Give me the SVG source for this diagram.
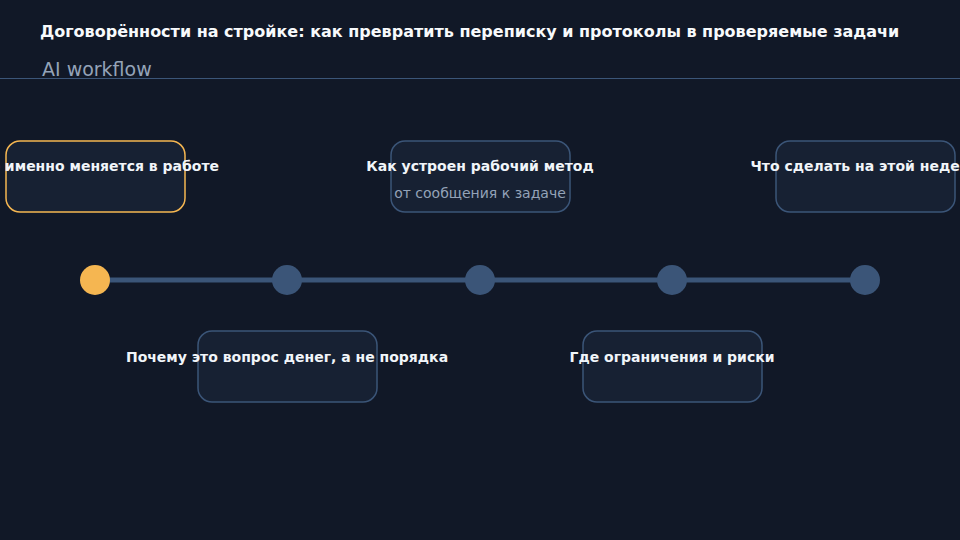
<svg xmlns="http://www.w3.org/2000/svg" width="960" height="540" viewBox="0 0 960 540">
<style>
.t{font-family:"DejaVu Sans",sans-serif;font-weight:bold;font-size:14px;fill:#f1f5f9;text-anchor:middle}
.s{font-family:"DejaVu Sans",sans-serif;font-size:14px;fill:#94a3b8;text-anchor:middle}
.box{fill:#172133;stroke:#3b5578;stroke-width:1.5}
.act{fill:#172133;stroke:#f5b651;stroke-width:1.5}
.dot{fill:#3b5578}
</style>
<rect width="960" height="540" fill="#111827"/>
<text x="40" y="37" font-family="DejaVu Sans, sans-serif" font-weight="bold" font-size="16" fill="#f8fafc">Договорённости на стройке: как превратить переписку и протоколы в проверяемые задачи</text>
<text x="42" y="76" font-family="DejaVu Sans, sans-serif" font-size="19" fill="#94a3b8">AI workflow</text>
<line x1="0" y1="78.5" x2="960" y2="78.5" stroke="#3b5578" stroke-width="1"/>
<g id="connectors">
<line x1="95" y1="280" x2="865" y2="280" stroke="#3b5578" stroke-width="5"/>
</g>
<g id="n1"><rect class="act" x="6" y="141" width="179" height="71" rx="14"/><circle cx="95" cy="280" r="15" fill="#f5b651"/><text class="t" x="95" y="171">Что именно меняется в работе</text></g>
<g id="n2"><rect class="box" x="198" y="331" width="179" height="71" rx="14"/><circle class="dot" cx="287" cy="280" r="15"/><text class="t" x="287" y="362">Почему это вопрос денег, а не порядка</text></g>
<g id="n3"><rect class="box" x="391" y="141" width="179" height="71" rx="14"/><circle class="dot" cx="480" cy="280" r="15"/><text class="t" x="480" y="171">Как устроен рабочий метод</text><text class="s" x="480" y="198">от сообщения к задаче</text></g>
<g id="n4"><rect class="box" x="583" y="331" width="179" height="71" rx="14"/><circle class="dot" cx="672" cy="280" r="15"/><text class="t" x="672" y="362">Где ограничения и риски</text></g>
<g id="n5"><rect class="box" x="776" y="141" width="179" height="71" rx="14"/><circle class="dot" cx="865" cy="280" r="15"/><text class="t" x="865" y="171">Что сделать на этой неделе</text></g>
</svg>
